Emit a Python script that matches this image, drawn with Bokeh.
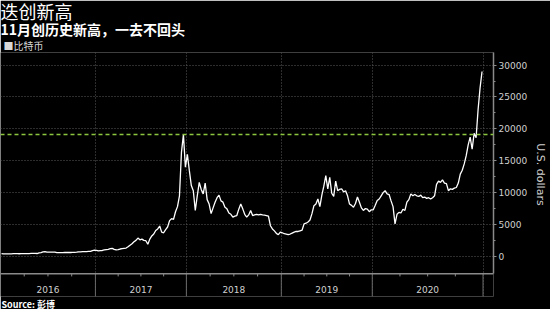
from bokeh.plotting import figure
from bokeh.models import Title, FixedTicker, Span, Range1d
from bokeh.embed import file_html
from bokeh.resources import INLINE
from bokeh.core.properties import value

# ---------------- data ----------------
years = ["2016", "2017", "2018", "2019", "2020"]

btc_2016 = [430, 400, 385, 375, 375, 400, 420, 435, 415, 410, 415, 420,
            420, 425, 440, 455, 450, 455, 445, 530, 580, 690, 750, 670,
            675, 660, 655, 655, 575, 580, 575, 575, 605, 610, 605, 605,
            615, 625, 655, 700, 705, 740, 740, 735, 765, 780, 900, 960]
btc_2017 = [940, 850, 900, 920, 1000, 1050, 1100, 1200, 1250, 1100, 1000, 1050,
            1150, 1200, 1250, 1300, 1500, 1750, 1980, 2300, 2500, 2870, 2600, 2700,
            2500, 2450, 1900, 2700, 3200, 3500, 4060, 4300, 4750, 3800, 3700, 4200,
            4600, 5600, 5900, 5800, 7000, 7800, 9500, 16300, 19100, 14000]
btc_2018 = [16000, 13440, 11100, 10300, 7200, 9500, 11600, 10500, 9800, 11500, 8900, 8200,
            6700, 7600, 8500, 9200, 9600, 8700, 8500, 7700, 7450, 6800, 6600, 6150,
            6300, 6400, 7400, 8230, 7450, 6600, 6150, 6500, 7200, 6400, 6500, 6600,
            6500, 6600, 6500, 6450, 6400, 6300, 4800, 4300, 4000, 3600, 3400, 3800]
btc_2019 = [3700, 3550, 3500, 3400, 3500, 3650, 3800, 3900, 3900, 4000, 4100, 5100,
            5200, 5400, 5700, 6700, 7950, 8200, 9000, 7800, 9600, 11000, 12650, 10600,
            12400, 9900, 9400, 11800, 10300, 10500, 10600, 10100, 10300, 9500, 8200, 8000,
            7700, 8300, 9300, 8500, 7600, 7200, 7500, 7400, 7000, 7300]
btc_2020 = [7300, 8000, 8750, 9000, 9500, 10000, 10300, 9800, 9700, 8700, 7800, 5100,
            6600, 6900, 6800, 7400, 7200, 8500, 8900, 9800, 9500, 9700, 9500, 9400,
            9600, 9200, 9300, 9100, 9200, 9000, 9200, 9500, 11300, 11800, 11600, 12000,
            11500, 11400, 10300, 10600, 10500, 10700, 10800, 11500, 12900, 13500, 14500, 15800,
            17500, 18700, 16800, 19300, 18600, 23000, 26400, 29000]

record_high = 19100
y_ticks = [0, 5000, 10000, 15000, 20000, 25000, 30000]

# ---------------- derived ----------------
series = [btc_2016, btc_2017, btc_2018, btc_2019, btc_2020]
prices = [v for s in series for v in s]
xs = [i + 0.5 for i in range(len(prices))]
counts = [len(s) for s in series]
bounds = [0]
for c in counts:
    bounds.append(bounds[-1] + c)
mids = [(bounds[i] + bounds[i + 1]) / 2 for i in range(len(years))]
quarters = [bounds[i] + counts[i] * q / 4 for i in range(len(years)) for q in (1, 2, 3)]

# layout constants (value space below the zero line used for the time axis)
Y_MIN, Y_MAX = -6300, 31980
AXIS_Y = -2750
QTICK_Y = -3150
LABEL_Y = -5200
X_MAX = 249.3

FONT = "DejaVu Sans"
CJK = "Noto Sans CJK SC"

p = figure(width=550, height=309, output_backend="svg", toolbar_location=None,
           x_range=Range1d(0, X_MAX), y_range=Range1d(Y_MIN, Y_MAX),
           y_axis_location="right", x_axis_location=None,
           min_border_left=0, min_border_right=0, min_border_top=0, min_border_bottom=0,
           background_fill_color="black", border_fill_color="black",
           outline_line_color=None, title=None)

# titles (first added = nearest the frame)
p.add_layout(Title(text="■比特币", text_font=CJK, text_font_size="10px",
                   text_font_style="normal", text_color="#d8d8d8", standoff=-1, offset=3), "above")
p.add_layout(Title(text="11月创历史新高，一去不回头", text_font=CJK, text_font_size="14px",
                   text_font_style="bold", text_color="white", standoff=-4, offset=0), "above")
p.add_layout(Title(text="迭创新高", text_font=CJK, text_font_size="18px",
                   text_font_style="normal", text_color="white", standoff=-10, offset=0), "above")
p.add_layout(Title(text="Source: 彭博", text_font=CJK, text_font_size="9px",
                   text_font_style="bold", text_color="white", standoff=-2, offset=1), "below")

# grids
p.ygrid.ticker = FixedTicker(ticks=y_ticks)
p.ygrid.grid_line_color = "#5a5a5a"
p.ygrid.grid_line_dash = "1 2"
p.ygrid.grid_line_width = 1
p.xgrid.ticker = FixedTicker(ticks=bounds[1:])
p.xgrid.grid_line_color = "#5a5a5a"
p.xgrid.grid_line_dash = "1 2"
p.xgrid.grid_line_width = 1

# y axis (right)
ya = p.yaxis[0]
ya.ticker = FixedTicker(ticks=y_ticks, minor_ticks=[t + 2500 for t in y_ticks[:-1]])
ya.bounds = (AXIS_Y, Y_MAX)
ya.axis_line_color = "#8a8a8a"
ya.axis_line_width = 1.5
ya.major_tick_line_color = "#8a8a8a"
ya.minor_tick_line_color = "#8a8a8a"
ya.major_tick_in = 0
ya.major_tick_out = 3
ya.minor_tick_in = 0
ya.minor_tick_out = 2
ya.major_label_standoff = 2
ya.major_label_text_font = FONT
ya.major_label_text_font_size = "9px"
ya.major_label_text_color = "#d0d0d0"
ya.axis_label = "U.S. dollars"
ya.axis_label_text_font = FONT
ya.axis_label_text_font_size = "11px"
ya.axis_label_text_font_style = "normal"
ya.axis_label_text_color = "#d0d0d0"
ya.axis_label_standoff = 4

# time axis drawn in the lower band
p.add_layout(Span(location=AXIS_Y, dimension="width", line_color="#8a8a8a", line_width=1.5))
p.segment(x0=bounds[1:], y0=[AXIS_Y] * (len(bounds) - 1), x1=bounds[1:], y1=[Y_MIN] * (len(bounds) - 1),
          line_color="#6a6a6a", line_width=1)
p.segment(x0=quarters, y0=[AXIS_Y] * len(quarters), x1=quarters, y1=[QTICK_Y] * len(quarters),
          line_color="#8a8a8a", line_width=1)
p.text(x=mids, y=[LABEL_Y] * len(mids), text=years, text_align="center", text_baseline="middle",
       text_font=value(FONT), text_font_size="9px", text_color="#d0d0d0")

# record line and price
p.add_layout(Span(location=record_high, dimension="width", line_color="#8cc63f",
                  line_dash="4 3", line_width=1.5))
p.line(xs, prices, line_color="white", line_width=1.3)

open("out.html", "w").write(file_html(p, INLINE))
